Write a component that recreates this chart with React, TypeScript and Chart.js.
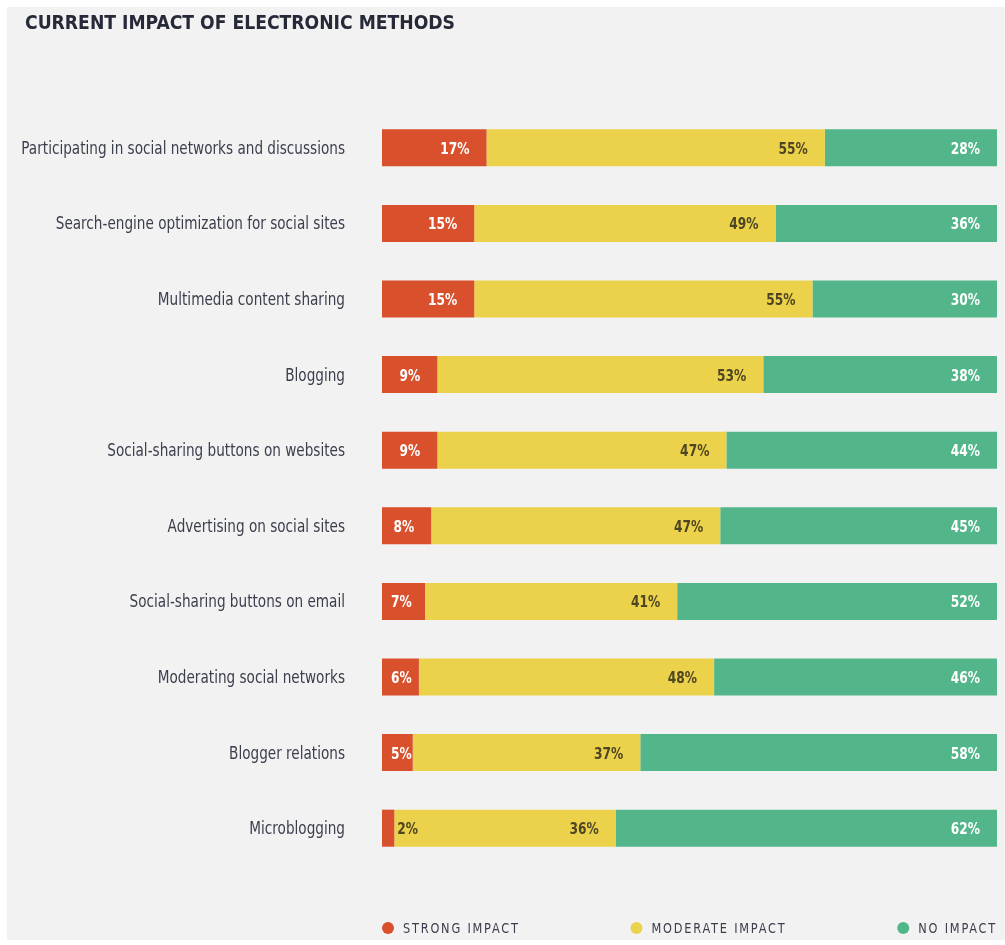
import React, { useEffect, useRef } from "react";
import { Chart, registerables } from "chart.js";

Chart.register(...registerables);

const TITLE = "CURRENT IMPACT OF ELECTRONIC METHODS";

const categories = [
  "Participating in social networks and discussions",
  "Search-engine optimization for social sites",
  "Multimedia content sharing",
  "Blogging",
  "Social-sharing buttons on websites",
  "Advertising on social sites",
  "Social-sharing buttons on email",
  "Moderating social networks",
  "Blogger relations",
  "Microblogging",
];

const strongImpact = [17, 15, 15, 9, 9, 8, 7, 6, 5, 2];
const moderateImpact = [55, 49, 55, 53, 47, 47, 41, 48, 37, 36];
const noImpact = [28, 36, 30, 38, 44, 45, 52, 46, 58, 62];

const seriesNames = ["STRONG IMPACT", "MODERATE IMPACT", "NO IMPACT"];
const seriesColors = ["#d9502c", "#ebd24a", "#53b68a"];
const labelColors = ["#ffffff", "#4e4522", "#ffffff"];

const FONT = '"Liberation Sans Narrow", "DejaVu Sans Condensed", sans-serif';

function drawScaled(ctx: any, text: string, x: number, y: number, align: string, sx: number) {
  const w = ctx.measureText(text).width * sx;
  const left = align === "right" ? x - w : x;
  ctx.save();
  ctx.textAlign = "left";
  ctx.translate(left, y);
  ctx.scale(sx, 1);
  ctx.fillText(text, 0, 0);
  ctx.restore();
  return w;
}

const overlayPlugin = {
  id: "overlay",
  afterDatasetsDraw(chart: any) {
    const ctx = chart.ctx;
    ctx.save();
    ctx.font = `bold 16px ${FONT}`;
    ctx.textBaseline = "alphabetic";
    const sx = 0.85;
    chart.data.datasets.forEach((ds: any, di: number) => {
      const meta = chart.getDatasetMeta(di);
      meta.data.forEach((bar: any, i: number) => {
        const v = ds.data[i];
        const text = `${v}%`;
        const w = ctx.measureText(text).width * sx;
        const left = Math.min(bar.x, bar.base);
        const right = Math.max(bar.x, bar.base);
        const y = bar.y + 6;
        if (right - left < w + 4) {
          ctx.fillStyle = "#4e4522";
          drawScaled(ctx, text, right + 3, y, "left", sx);
        } else {
          let xr = right - 17;
          if (xr - w < left + 9) xr = Math.min(right - 1, left + 9 + w);
          ctx.fillStyle = labelColors[di];
          drawScaled(ctx, text, xr, y, "right", sx);
        }
      });
    });
    ctx.restore();
  },
  afterDraw(chart: any) {
    const ctx = chart.ctx;
    const area = chart.chartArea;
    const yScale = chart.scales.y;
    ctx.save();
    ctx.textBaseline = "alphabetic";
    // title
    ctx.fillStyle = "#262a38";
    ctx.font = `bold 20px ${FONT}`;
    ctx.textAlign = "left";
    ctx.fillText(TITLE, 18, 22, 430);

    // category labels
    ctx.fillStyle = "#3b3e4c";
    ctx.font = `17px ${FONT}`;
    chart.data.labels.forEach((lab: string, i: number) => {
      const y = yScale.getPixelForValue(i);
      drawScaled(ctx, lab, area.left - 37, y + 6, "right", 0.89);
    });

    // legend
    ctx.font = `14px ${FONT}`;
    (ctx as any).letterSpacing = "2px";
    const lsx = 0.9;
    const widths = seriesNames.map((n) => ctx.measureText(n).width * lsx);
    const itemW = widths.map((w) => w + 21);
    const total = itemW.reduce((a, b) => a + b, 0);
    const gap = (area.right - area.left - total) / (seriesNames.length - 1);
    let x = area.left;
    const ly = 921;
    seriesNames.forEach((n, i) => {
      ctx.fillStyle = seriesColors[i];
      ctx.beginPath();
      ctx.arc(x + 6, ly, 6, 0, Math.PI * 2);
      ctx.fill();
      ctx.fillStyle = "#3b3e4c";
      drawScaled(ctx, n, x + 21, ly + 5, "left", lsx);
      x += itemW[i] + gap;
    });
    ctx.restore();
  },
};

export default function App() {
  const ref = useRef<HTMLCanvasElement | null>(null);
  useEffect(() => {
    if (!ref.current) return;
    const chart = new Chart(ref.current, {
      type: "bar",
      data: {
        labels: categories,
        datasets: [strongImpact, moderateImpact, noImpact].map((d, i) => ({
          label: seriesNames[i],
          data: d,
          backgroundColor: seriesColors[i],
          borderWidth: 0,
          barPercentage: 0.49,
          categoryPercentage: 1,
        })),
      },
      options: {
        indexAxis: "y",
        animation: false,
        responsive: false,
        devicePixelRatio: 1,
        layout: { padding: { top: 103, right: 8, bottom: 74, left: 0 } },
        scales: {
          x: { stacked: true, min: 0, max: 100, display: false },
          y: {
            stacked: true,
            grid: { display: false },
            border: { display: false },
            ticks: { display: false },
            afterFit: (s: any) => {
              s.width = 375;
            },
          },
        },
        plugins: {
          legend: { display: false },
          tooltip: { enabled: false },
        },
      },
      plugins: [overlayPlugin],
    });
    return () => chart.destroy();
  }, []);
  return (
    <div
      style={{
        position: "absolute",
        left: 7,
        top: 7,
        width: 998,
        height: 933,
        background: "#f2f2f2",
      }}
    >
      <canvas ref={ref} width={998} height={933} style={{ display: "block" }} />
    </div>
  );
}
